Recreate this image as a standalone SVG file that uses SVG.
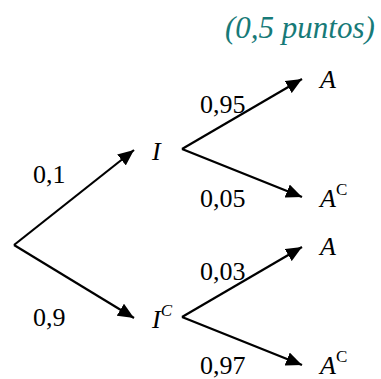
<svg xmlns="http://www.w3.org/2000/svg" width="381" height="379" viewBox="0 0 381 379">
<style>
text{font-family:'Liberation Serif','DejaVu Serif',serif}
.t{font-size:26px;fill:#000}
.i{font-style:italic}
.sup{font-size:17px}
.title{font-size:31px;font-style:italic;fill:#177a78}
.edge{stroke:#000;stroke-width:2.2;fill:none;marker-end:url(#ah)}
</style>
<defs>
<marker id="ah" viewBox="0 0 16 14" refX="16" refY="7" markerWidth="16" markerHeight="14" markerUnits="userSpaceOnUse" orient="auto">
<path d="M0,0 L16,7 L0,14 z" fill="#000"/>
</marker>
</defs>
<rect width="381" height="379" fill="#fff"/>
<text class="title" x="225" y="38">(0,5 puntos)</text>
<g id="connectors">
<line class="edge" x1="14" y1="245" x2="134" y2="150"/>
<line class="edge" x1="14" y1="245" x2="134" y2="318"/>
<line class="edge" x1="182" y1="149" x2="302" y2="79"/>
<line class="edge" x1="182" y1="149" x2="302" y2="197"/>
<line class="edge" x1="182" y1="317" x2="302" y2="247"/>
<line class="edge" x1="182" y1="317" x2="302" y2="365"/>
</g>
<g id="edge-labels">
<text class="t" x="33" y="183">0,1</text>
<text class="t" x="33" y="326">0,9</text>
<text class="t" x="200" y="113">0,95</text>
<text class="t" x="200" y="207">0,05</text>
<text class="t" x="200" y="280">0,03</text>
<text class="t" x="200" y="374">0,97</text>
</g>
<g id="node-I"><text class="t i" x="152" y="160">I</text></g>
<g id="node-IC"><text class="t i" x="152" y="328">I<tspan class="sup" dy="-12">C</tspan></text></g>
<g id="node-A1"><text class="t i" x="320" y="88">A</text></g>
<g id="node-AC1"><text class="t i" x="320" y="207">A<tspan class="sup" font-style="normal" dy="-12">C</tspan></text></g>
<g id="node-A2"><text class="t i" x="320" y="255">A</text></g>
<g id="node-AC2"><text class="t i" x="320" y="374">A<tspan class="sup" font-style="normal" dy="-12">C</tspan></text></g>
</svg>
